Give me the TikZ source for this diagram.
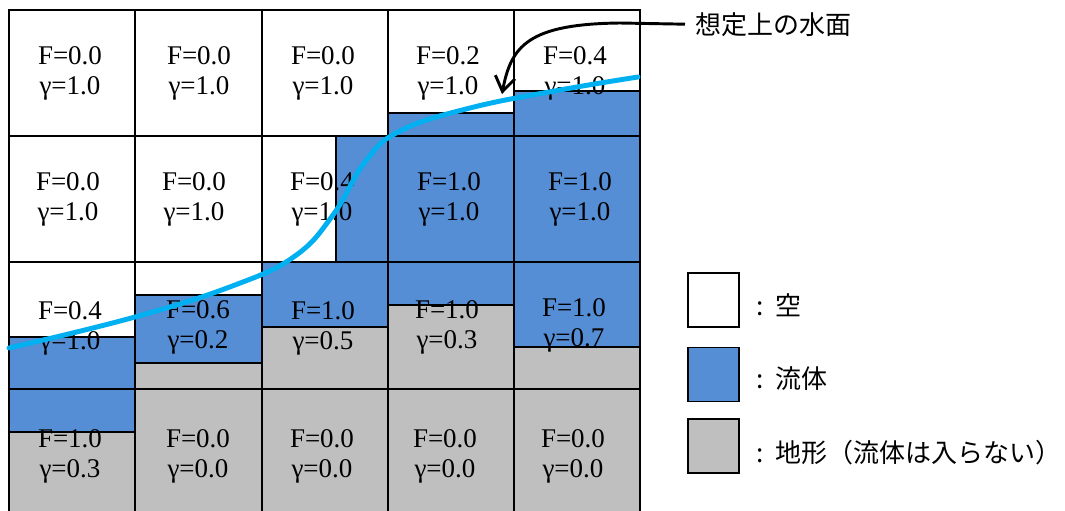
\documentclass[tikz,border=0pt]{standalone}
\usepackage{fontspec}
\setmainfont{Liberation Serif}
\newfontfamily\jpfont{Noto Sans CJK JP}
\usetikzlibrary{arrows.meta}
\definecolor{fluidblue}{RGB}{85,142,213}
\definecolor{terrgray}{RGB}{191,191,191}
\definecolor{surfcyan}{RGB}{0,176,240}
\begin{document}
\begin{tikzpicture}[x=0.75pt,y=-0.75pt,
  gridline/.style={line width=1.5pt,black},
  fluid/.style={fill=fluidblue,draw=black,line width=1.1pt},
  terrain/.style={fill=terrgray,draw=black,line width=1.1pt},
  celltext/.style={font=\fontsize{20.25}{22.5}\selectfont,align=center,inner sep=0pt,text=black},
  surface/.style={line width=3.7pt,surfcyan,line cap=round},
  legbox/.style={draw=black,line width=1.1pt,minimum width=38.25pt,minimum height=40.5pt,inner sep=0pt},
  legtext/.style={font=\jpfont\fontsize{19.5}{22}\selectfont,inner sep=0pt,anchor=base west},
  pointer/.style={line width=2.2pt,black,-{Straight Barb[length=11pt,width=15pt,line width=2.2pt]}}
]
\useasboundingbox (0,0) rectangle (1065,511);
\begin{scope}
\clip (0,0) rectangle (1065,511);
% row 1
\filldraw[fluid] (388,113) rectangle (514,136);
\filldraw[fluid] (514,91) rectangle (640,136);
% row 2
\filldraw[fluid] (336,136) rectangle (388,262);
\filldraw[fluid] (388,136) rectangle (640,262);
% row 3
\filldraw[fluid] (9,337) rectangle (135,389);
\filldraw[fluid] (135,295) rectangle (262,363);
\filldraw[terrain] (135,363) rectangle (262,389);
\filldraw[fluid] (262,262) rectangle (388,327);
\filldraw[terrain] (262,327) rectangle (388,389);
\filldraw[fluid] (388,262) rectangle (514,305);
\filldraw[terrain] (388,305) rectangle (514,389);
\filldraw[fluid] (514,262) rectangle (640,347);
\filldraw[terrain] (514,347) rectangle (640,389);
% row 4
\filldraw[fluid] (9,389) rectangle (135,432);
\filldraw[terrain] (9,432) rectangle (135,520);
\filldraw[terrain] (135,389) rectangle (640,520);
% grid
\foreach \gx in {9,135,262,388,514,640} \draw[gridline] (\gx,10) -- (\gx,520);
\foreach \gy in {10,136,262,389} \draw[gridline] (8,\gy) -- (641,\gy);
\end{scope}
% cell texts
\node[celltext] (c11) at (70,73) {F=0.0\\γ=1.0};
\node[celltext] (c12) at (199,73) {F=0.0\\γ=1.0};
\node[celltext] (c13) at (323,73) {F=0.0\\γ=1.0};
\node[celltext] (c14) at (448,73) {F=0.2\\γ=1.0};
\node[celltext] (c15) at (575,73) {F=0.4\\γ=1.0};
\node[celltext] (c21) at (68,199) {F=0.0\\γ=1.0};
\node[celltext] (c22) at (194,199) {F=0.0\\γ=1.0};
\node[celltext] (c23) at (322,199) {F=0.4\\γ=1.0};
\node[celltext] (c24) at (449,199) {F=1.0\\γ=1.0};
\node[celltext] (c25) at (580,199) {F=1.0\\γ=1.0};
\node[celltext] (c31) at (70,328) {F=0.4\\γ=1.0};
\node[celltext] (c32) at (198,327) {F=0.6\\γ=0.2};
\node[celltext] (c33) at (323,328) {F=1.0\\γ=0.5};
\node[celltext] (c34) at (447,327) {F=1.0\\γ=0.3};
\node[celltext] (c35) at (574,325) {F=1.0\\γ=0.7};
\node[celltext] (c41) at (70,456) {F=1.0\\γ=0.3};
\node[celltext] (c42) at (198,456) {F=0.0\\γ=0.0};
\node[celltext] (c43) at (322,456) {F=0.0\\γ=0.0};
\node[celltext] (c44) at (445,456) {F=0.0\\γ=0.0};
\node[celltext] (c45) at (573,456) {F=0.0\\γ=0.0};
% assumed water surface
\draw[surface] plot[smooth,tension=0.7] coordinates {(9,348) (135,317) (235,285) (295,256) (333,215) (365,162) (400,131) (470,108) (560,90) (638,77)};
% label and pointer
\node[legtext,inner xsep=7.5pt] (lbl) at (685,34) {想定上の水面};
\coordinate (tip) at (502,94);
\draw[pointer] (lbl.west) -- (620,23) .. controls (528,24) and (511,46) .. (tip);
% legend
\node[legbox,fill=white] (lgA) at (713.5,300) {};
\node[legbox,fill=fluidblue] (lgB) at (713.5,374.5) {};
\node[legbox,fill=terrgray] (lgC) at (713.5,446) {};
\node[legtext] (lgAt) at (756,315) {:\hspace{0.45em}空};
\node[legtext] (lgBt) at (756,388) {:\hspace{0.45em}流体};
\node[legtext] (lgCt) at (756,462) {:\hspace{0.45em}地形（流体は入らない）};
\end{tikzpicture}
\end{document}
